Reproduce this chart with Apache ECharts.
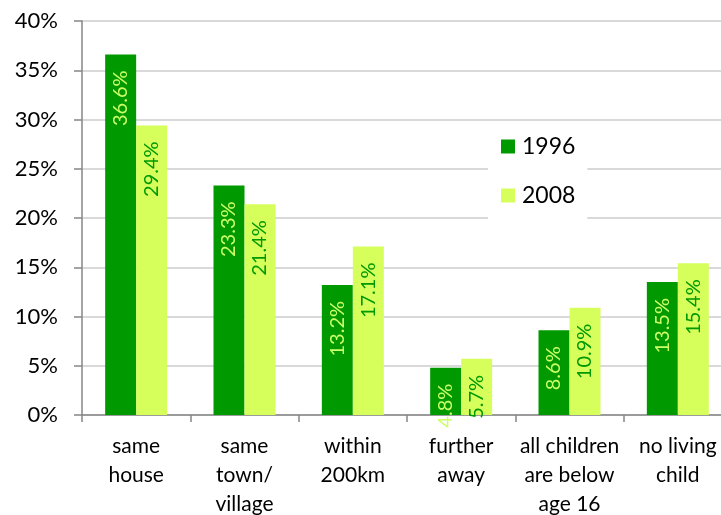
<!DOCTYPE html>
<html><head><meta charset="utf-8">
<script src="https://cdn.jsdelivr.net/npm/echarts@6/dist/echarts.min.js"></script>
<style>html,body{margin:0;padding:0;background:#fff}#c{width:721px;height:515px}</style>
</head><body><div id="c"></div>
<script>
const categories = ['same\nhouse','same\ntown/\nvillage','within\n200km','further\naway','all children\nare below\nage 16','no living\nchild'];
const values1996 = [36.6, 23.3, 13.2, 4.8, 8.6, 13.5];
const values2008 = [29.4, 21.4, 17.1, 5.7, 10.9, 15.4];
const yTicks = [0,5,10,15,20,25,30,35,40];
const FONT = 'Lato, "Open Sans", sans-serif';
const chart = echarts.init(document.getElementById('c'));
function lbl(color){
  return {show:true, position:'insideTop', rotate:90, align:'right', verticalAlign:'middle',
    distance:16, color:color, fontSize:20, fontFamily:FONT,
    formatter:p=>p.value.toFixed(1)+'%'};
}
chart.setOption({
  animation:false,
  grid:{left:82, top:21, width:650, height:394, containLabel:false, outerBoundsMode:'none'},
  legend:{orient:'vertical', left:488, top:121, backgroundColor:'#fff', padding:[14,12,12,13],
    itemGap:26, itemWidth:14, itemHeight:14, icon:'rect',
    textStyle:{fontSize:23, fontFamily:FONT, color:'#000', padding:[0,0,0,2]},
    data:['1996','2008']},
  xAxis:{type:'category', data:categories,
    axisLine:{lineStyle:{color:'#868686', width:1.5}},
    axisTick:{show:true, alignWithLabel:false, length:7, lineStyle:{color:'#868686', width:1.5}},
    axisLabel:{interval:0, margin:17, fontSize:21, lineHeight:29, color:'#000', fontFamily:FONT}},
  yAxis:{type:'value', min:yTicks[0], max:yTicks[yTicks.length-1], interval:5,
    axisLine:{show:true, lineStyle:{color:'#868686', width:1.5}},
    axisTick:{show:true, length:8, lineStyle:{color:'#868686', width:1.5}},
    axisLabel:{margin:24, fontSize:22, color:'#000', fontFamily:FONT, formatter:v=>v+'%'},
    splitLine:{lineStyle:{color:'#d9d9d9', width:2}}},
  series:[
    {name:'1996', type:'bar', data:values1996, barWidth:31, barGap:'0%',
      itemStyle:{color:'#009900'}, label:lbl('#ccff66')},
    {name:'2008', type:'bar', data:values2008, barWidth:31,
      itemStyle:{color:'#d6ff5c'}, label:lbl('#009900')}
  ]
});
</script></body></html>
